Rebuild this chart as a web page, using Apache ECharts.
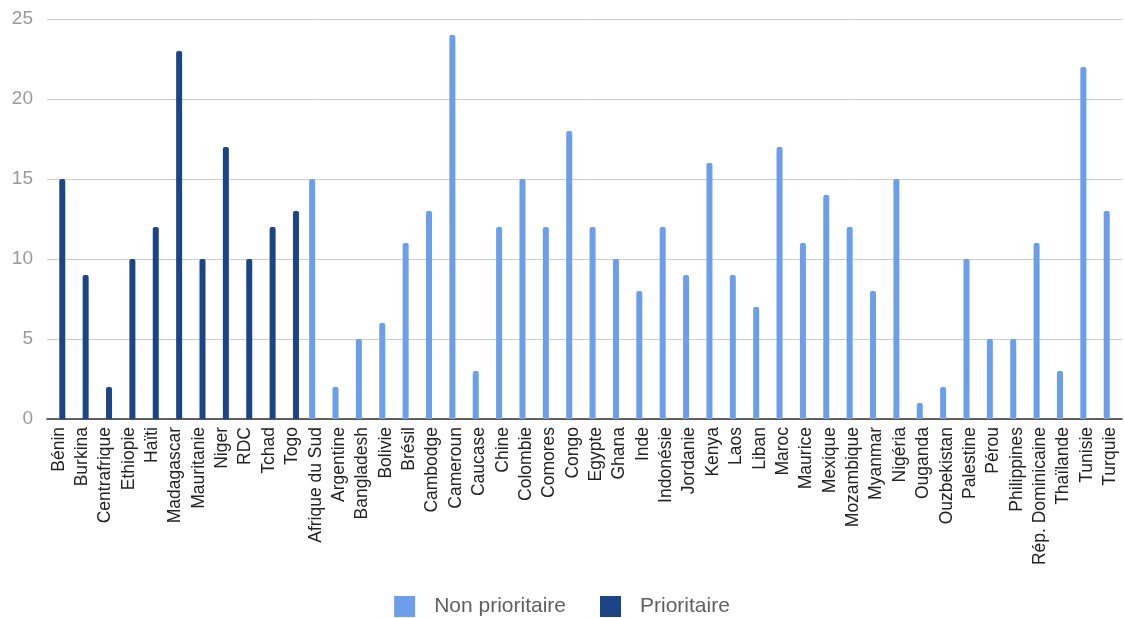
<!DOCTYPE html>
<html>
<head>
<meta charset="utf-8">
<script src="https://cdn.jsdelivr.net/npm/echarts@6/dist/echarts.min.js"></script>
<style>
html,body{margin:0;padding:0;background:#fff;}
#chart{width:1124px;height:618px;}
</style>
</head>
<body>
<div id="chart"></div>
<script>
const prioCountries = ["Bénin","Burkina","Centrafrique","Ethiopie","Haïti","Madagascar","Mauritanie","Niger","RDC","Tchad","Togo"];
const prioValues = [15,9,2,10,12,23,10,17,10,12,13];
const nonPrioCountries = ["Afrique du Sud","Argentine","Bangladesh","Bolivie","Brésil","Cambodge","Cameroun","Caucase","Chine","Colombie","Comores","Congo","Egypte","Ghana","Inde","Indonésie","Jordanie","Kenya","Laos","Liban","Maroc","Maurice","Mexique","Mozambique","Myanmar","Nigéria","Ouganda","Ouzbekistan","Palestine","Pérou","Philippines","Rép. Dominicaine","Thaïlande","Tunisie","Turquie"];
const nonPrioValues = [15,2,5,6,11,13,24,3,12,15,12,18,12,10,8,12,9,16,9,7,17,11,14,12,8,15,1,2,10,5,5,11,3,22,13];
const yTicks = {min:0, max:25, interval:5};

const categories = prioCountries.concat(nonPrioCountries);
const prioSeries = prioValues.concat(nonPrioCountries.map(() => null));
const nonPrioSeries = prioCountries.map(() => null).concat(nonPrioValues);

const FONT = '"Liberation Sans", Arial, sans-serif';
const chart = echarts.init(document.getElementById('chart'), null, {renderer:'canvas'});
chart.setOption({
  animation:false,
  textStyle:{fontFamily:FONT},
  grid:{left:47, right:2, top:19, bottom:199, containLabel:false},
  legend:{
    data:["Non prioritaire","Prioritaire"],
    top:591, left:'center',
    itemWidth:21, itemHeight:21, itemGap:34,
    icon:'rect',
    textStyle:{fontFamily:FONT, fontSize:21, color:'#5f5f5f', padding:[0,0,0,14]}
  },
  xAxis:{
    type:'category', data:categories,
    axisTick:{show:false},
    axisLine:{lineStyle:{color:'#333', width:1.5}},
    axisLabel:{interval:0, rotate:90, margin:8, fontSize:17.5, color:'#222', fontFamily:FONT}
  },
  yAxis:{
    type:'value', min:yTicks.min, max:yTicks.max, interval:yTicks.interval,
    axisLine:{show:false}, axisTick:{show:false},
    axisLabel:{fontSize:19, color:'#9a9a9a', margin:14, fontFamily:FONT},
    splitLine:{lineStyle:{color:'#cccccc', width:1}}
  },
  series:[
    {name:"Non prioritaire", type:'bar', data:nonPrioSeries, barWidth:6, barGap:'20%',
     itemStyle:{color:'#6d9eeb', borderRadius:[2,2,0,0]}},
    {name:"Prioritaire", type:'bar', data:prioSeries, barWidth:6, barGap:'20%',
     itemStyle:{color:'#1c4587', borderRadius:[2,2,0,0]}}
  ]
});
</script>
</body>
</html>
